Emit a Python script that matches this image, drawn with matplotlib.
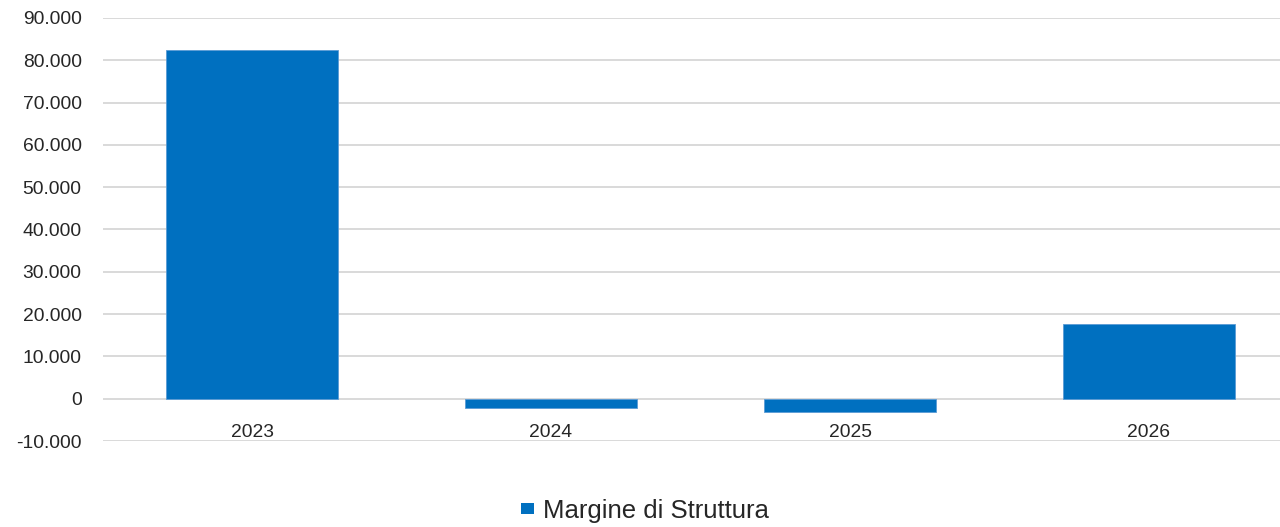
import matplotlib
matplotlib.use("Agg")
import matplotlib.pyplot as plt
from matplotlib.ticker import FuncFormatter, MultipleLocator
from matplotlib.patches import Patch

categories = ["2023", "2024", "2025", "2026"]
values = [82400, -2200, -3100, 17700]
series_name = "Margine di Struttura"

plt.rcParams['font.family'] = ['Liberation Sans', 'DejaVu Sans']

fig = plt.figure(figsize=(12.8, 5.27), dpi=100)
ax = fig.add_axes([102.5 / 1280, (527 - 441) / 527, 1196 / 1280, 423 / 527])

x = list(range(len(categories)))
ax.bar(x, values, width=0.572, color="#0070C0", edgecolor="#5B9BD5", linewidth=0.6, zorder=3)

ax.set_xlim(-0.5, 3.5)
ax.set_ylim(-10000, 90000)
ax.yaxis.set_major_locator(MultipleLocator(10000))
ax.yaxis.set_major_formatter(FuncFormatter(lambda v, p: f"{int(v):,}".replace(",", ".")))
ax.grid(axis="y", color="#d9d9d9", linewidth=1.4, zorder=0)
for s in ax.spines.values():
    s.set_visible(False)
ax.spines['bottom'].set_position(('data', 0))
ax.set_xticks(x)
ax.set_xticklabels(categories)
ax.tick_params(axis="x", length=0, pad=18.5, labelsize=13.9, labelcolor="#262626")
ax.tick_params(axis="y", length=0, pad=15, labelsize=13.9, labelcolor="#262626")

handle = Patch(facecolor="#0070C0", edgecolor="none")
fig.legend([handle], [series_name], loc="center", bbox_to_anchor=(0.504, (527 - 511) / 527),
           frameon=False, fontsize=18.5, handlelength=0.5, handleheight=0.3,
           handletextpad=0.38, labelcolor="#262626")

fig.savefig("out.png", dpi=100)
